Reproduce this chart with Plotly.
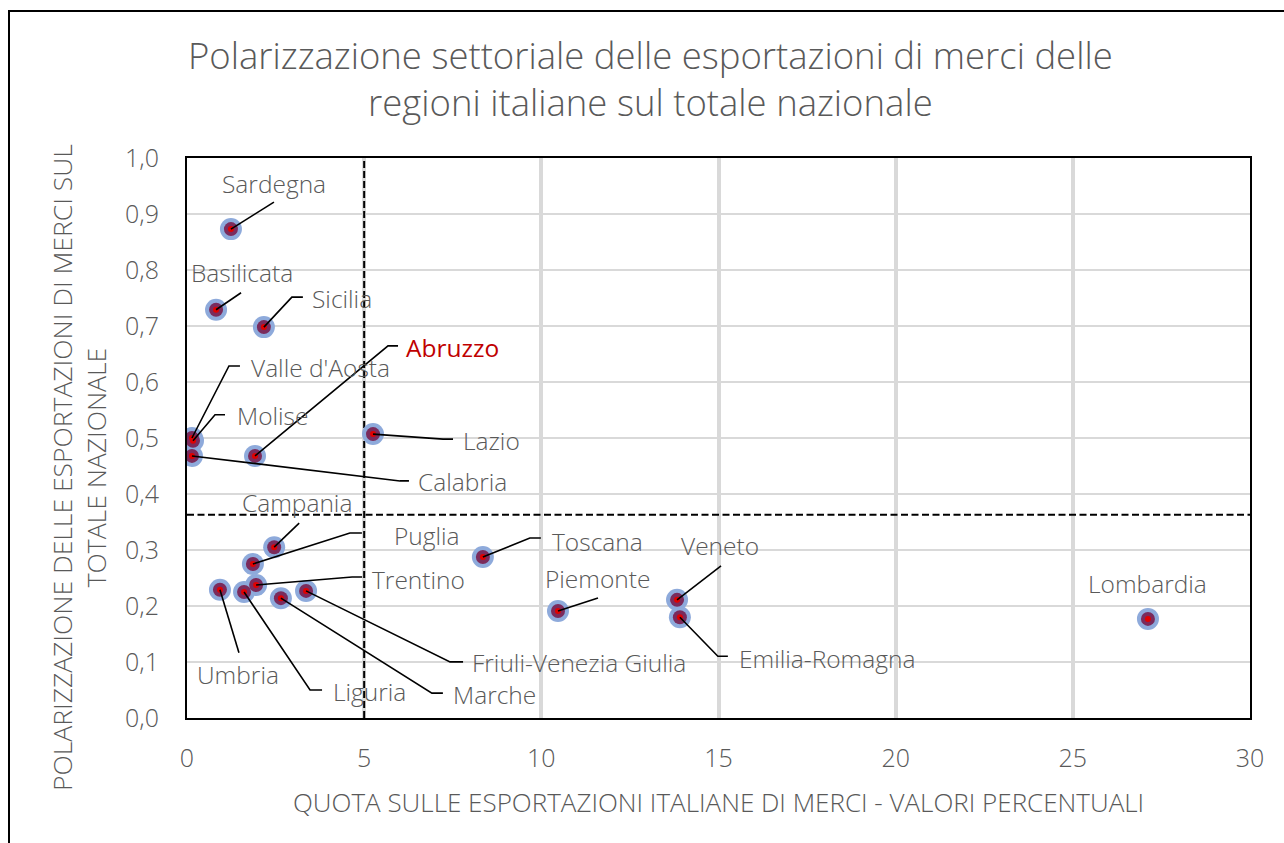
import plotly.graph_objects as go

# ---------------- DATA ----------------
regions = ["Sardegna", "Basilicata", "Sicilia", "Valle d'Aosta", "Molise", "Abruzzo",
           "Calabria", "Lazio", "Campania", "Puglia", "Trentino", "Umbria", "Liguria",
           "Marche", "Friuli-Venezia Giulia", "Toscana", "Piemonte", "Veneto",
           "Emilia-Romagna", "Lombardia"]
quota = [1.24, 0.82, 2.17, 0.14, 0.17, 1.92,
         0.14, 5.25, 2.46, 1.86, 1.95, 0.93, 1.61,
         2.65, 3.36, 8.35, 10.47, 13.83,
         13.91, 27.12]
polarizzazione = [0.873, 0.729, 0.698, 0.500, 0.495, 0.468,
                  0.468, 0.507, 0.305, 0.275, 0.2375, 0.229, 0.225,
                  0.214, 0.227, 0.2875, 0.191, 0.211,
                  0.180, 0.177]
media_quota = 5.0
media_polarizzazione = 0.363
x_ticks = [0, 5, 10, 15, 20, 25, 30]
y_ticks = [0.0, 0.1, 0.2, 0.3, 0.4, 0.5, 0.6, 0.7, 0.8, 0.9, 1.0]

# ---------------- LAYOUT / STYLE ----------------
W, H = 1284, 843
ML, MR, MT, MB = 187, 34, 158, 125
PW, PH = W - ML - MR, H - MT - MB
XR, YR = (0, 30), (0, 1)
GREY = "#595959"
FONT = "Open Sans"
LBL = 24.5

def dx(px):
    return px * (XR[1] - XR[0]) / PW

def dy(px):
    return -px * (YR[1] - YR[0]) / PH

def paper_x(px):
    return (px - ML) / PW

def paper_y(py):
    return (H - MB - py) / PH

# label styling: (elbow offset px, horizontal tail px, label offset px, anchor)
label_style = {
    "Sardegna": ((43, -27), 0, (43, -46), "center"),
    "Basilicata": ((25, -17), 0, (26, -37), "center"),
    "Sicilia": ((28, -30), 11, (46, -29), "left"),
    "Valle d'Aosta": ((37, -72), 11, (57, -71), "left"),
    "Molise": ((22, -26), 10, (42, -25), "left"),
    "Abruzzo": ((133, -110), 10, (149, -108), "left"),
    "Calabria": ((208, 25), 9, (224, 26), "left"),
    "Lazio": ((70, 5), 10, (88, 6), "left"),
    "Campania": ((25, -24), 0, (23, -45), "center"),
    "Puglia": ((97, -31), 12, (139, -29), "left"),
    "Trentino": ((96, -8), 10, (114, -6), "left"),
    "Umbria": ((19, 63), 0, (18, 85), "center"),
    "Liguria": ((66, 98), 12, (87, 99), "left"),
    "Marche": ((151, 95), 11, (170, 96), "left"),
    "Friuli-Venezia Giulia": ((144, 71), 13, (164, 72), "left"),
    "Toscana": ((47, -19), 11, (67, -16), "left"),
    "Piemonte": ((40, -13), 0, (40, -33), "center"),
    "Veneto": ((44, -34), 0, (43, -54), "center"),
    "Emilia-Romagna": ((38, 39), 10, (57, 41), "left"),
    "Lombardia": (None, 0, (0, -35), "center"),
}

fig = go.Figure()
fig.add_trace(go.Scatter(x=quota, y=polarizzazione, mode="markers",
                         marker=dict(size=22, color="#8eaadb"), hoverinfo="skip"))
fig.add_trace(go.Scatter(x=quota, y=polarizzazione, mode="markers",
                         marker=dict(size=14, color="#7b2b5c"), hoverinfo="skip"))
fig.add_trace(go.Scatter(x=quota, y=polarizzazione, mode="markers",
                         marker=dict(size=6, color="#e00000"),
                         text=regions, hoverinfo="text+x+y"))

shapes = []
annotations = []
for name, x, y in zip(regions, quota, polarizzazione):
    elbow, tail, loff, anchor = label_style[name]
    if elbow is not None:
        ex, ey = x + dx(elbow[0]), y + dy(elbow[1])
        path = f"M {x},{y} L {ex},{ey}"
        if tail:
            path += f" L {ex + dx(tail)},{ey}"
        shapes.append(dict(type="path", path=path, xref="x", yref="y",
                           line=dict(color="black", width=1.6), layer="above"))
    red = name == "Abruzzo"
    annotations.append(dict(
        x=x + dx(loff[0]), y=y + dy(loff[1]), xref="x", yref="y",
        text=name, showarrow=False, xanchor=anchor, yanchor="middle",
        font=dict(family=FONT, size=LBL, color="#c00000" if red else GREY,
                  weight=400 if red else 300)))

# reference (mean) lines
shapes.append(dict(type="line", x0=media_quota, x1=media_quota, y0=YR[0], y1=YR[1],
                   xref="x", yref="y", line=dict(color="black", width=2, dash="7px,3px"),
                   layer="between"))
shapes.append(dict(type="line", x0=XR[0], x1=XR[1], y0=media_polarizzazione,
                   y1=media_polarizzazione, xref="x", yref="y",
                   line=dict(color="black", width=2, dash="7px,3.5px"), layer="between"))
# outer chart border
shapes.append(dict(type="rect", xref="paper", yref="paper",
                   x0=paper_x(9), x1=paper_x(1320), y0=paper_y(900), y1=paper_y(11),
                   line=dict(color="black", width=2), fillcolor="rgba(0,0,0,0)",
                   layer="above"))

# title
annotations.append(dict(
    x=paper_x(650), y=paper_y(78), xref="paper", yref="paper",
    text="Polarizzazione settoriale delle esportazioni di merci delle<br>regioni italiane sul totale nazionale",
    showarrow=False, xanchor="center", yanchor="middle", align="center",
    font=dict(family=FONT, size=36.5, color=GREY, weight=300)))
# y axis title
annotations.append(dict(
    x=paper_x(79), y=paper_y(468), xref="paper", yref="paper", textangle=-90,
    text="POLARIZZAZIONE DELLE ESPORTAZIONI DI MERCI SUL<br>TOTALE NAZIONALE",
    showarrow=False, xanchor="center", yanchor="middle", align="center",
    font=dict(family=FONT, size=26.5, color=GREY, weight=300)))
# x axis title
annotations.append(dict(
    x=paper_x(718), y=paper_y(802), xref="paper", yref="paper",
    text="QUOTA SULLE ESPORTAZIONI ITALIANE DI MERCI - VALORI PERCENTUALI",
    showarrow=False, xanchor="center", yanchor="middle",
    font=dict(family=FONT, size=26, color=GREY, weight=300)))

fig.update_layout(
    width=W, height=H, autosize=False,
    margin=dict(l=ML, r=MR, t=MT, b=MB, pad=0),
    paper_bgcolor="white", plot_bgcolor="white",
    showlegend=False, separators=",.",
    shapes=shapes, annotations=annotations,
    xaxis=dict(range=list(XR), tickvals=x_ticks, showgrid=True, gridcolor="#d9d9d9",
               gridwidth=4, zeroline=False, showline=True, linecolor="black",
               linewidth=2, mirror=True, ticks="outside", ticklen=17,
               tickcolor="rgba(0,0,0,0)",
               tickfont=dict(family=FONT, size=25, color=GREY, weight=300)),
    yaxis=dict(range=list(YR), tickvals=y_ticks, tickformat=".1f", showgrid=True,
               gridcolor="#d9d9d9", gridwidth=2, zeroline=False, showline=True,
               linecolor="black", linewidth=2, mirror=True, ticks="outside",
               ticklen=21, tickcolor="rgba(0,0,0,0)",
               tickfont=dict(family=FONT, size=25, color=GREY, weight=300)),
)

fig.write_html("out.html", config={"displayModeBar": False},
               post_script="document.body.style.margin='0';")
